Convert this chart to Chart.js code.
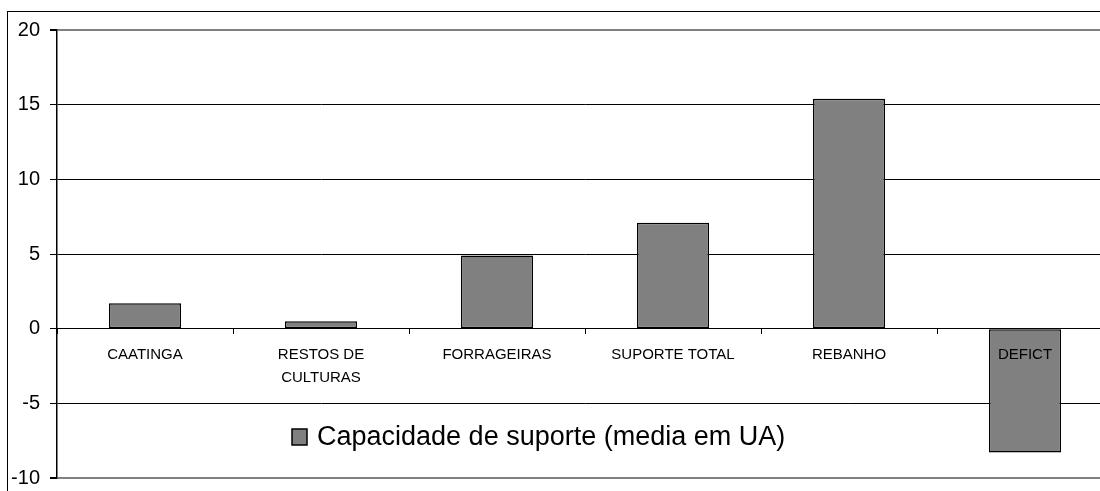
<!DOCTYPE html>
<html>
<head>
<meta charset="utf-8">
<script src="https://cdn.jsdelivr.net/npm/chart.js@4.4.0/dist/chart.umd.min.js"></script>
<style>
  html, body { margin: 0; padding: 0; background: #fff; overflow: hidden; }
  #wrap { position: relative; width: 1120px; height: 491px; }
</style>
</head>
<body>
<div id="wrap"><canvas id="capChart" width="1120" height="491"></canvas></div>
<script>
// categorias e valores (media em UA)
const categorias = ['CAATINGA', ['RESTOS DE', 'CULTURAS'], 'FORRAGEIRAS', 'SUPORTE TOTAL', 'REBANHO', 'DEFICT'];
const valores = [1.7, 0.5, 4.9, 7.1, 15.4, -8.3];
const serieNome = 'Capacidade de suporte (media em UA)';
const yMin = -10;
const yMax = 20;
const yPasso = 5;

const fonte = '"Liberation Sans", Arial, sans-serif';

// moldura externa + legenda dentro da area do grafico
const molduraLegenda = {
	id: 'molduraLegenda',
	beforeDraw(chart) {
		const ctx = chart.ctx;
		ctx.save();
		ctx.fillStyle = '#fff';
		ctx.fillRect(0, 0, chart.width, chart.height);
		ctx.strokeStyle = '#000';
		ctx.lineWidth = 1;
		ctx.strokeRect(7.5, 11.5, chart.width, chart.height);
		ctx.restore();
	},
	afterDraw(chart) {
		const ctx = chart.ctx;
		const area = chart.chartArea;
		const x = area.left + 235;
		const y = 437;
		ctx.save();
		ctx.fillStyle = '#808080';
		ctx.strokeStyle = '#000';
		ctx.lineWidth = 1.5;
		ctx.fillRect(x, y - 8, 15, 16);
		ctx.strokeRect(x, y - 8, 15, 16);
		ctx.fillStyle = '#000';
		ctx.font = '27px ' + fonte;
		ctx.textBaseline = 'middle';
		ctx.fillText(serieNome, x + 25, y + 1);
		ctx.restore();
	}
};

const ctx = document.getElementById('capChart');
const myChart = new Chart(ctx, {
	type: 'bar',
	data: {
		labels: categorias,
		datasets: [{
			label: serieNome,
			data: valores,
			backgroundColor: '#808080',
			borderColor: '#000',
			borderWidth: 1.5,
			borderSkipped: false,
			categoryPercentage: 1,
			barPercentage: 0.41,
		}],
	},
	options: {
		responsive: false,
		animation: false,
		layout: {
			padding: { top: 30, right: 7, bottom: 13, left: 0 }
		},
		plugins: {
			legend: { display: false },
			tooltip: { enabled: false },
		},
		scales: {
			x: {
				position: { y: 0 },
				offset: true,
				afterFit(scale) { scale.paddingLeft = 0; scale.paddingRight = 0; },
				grid: {
					offset: true,
					drawOnChartArea: false,
					drawTicks: true,
					tickLength: 5,
					color: '#000',
				},
				border: { display: true, color: '#000', width: 1, z: 1 },
				ticks: {
					z: 1,
					color: '#000',
					font: { family: fonte, size: 15, lineHeight: 1.5 },
					padding: 10,
					maxRotation: 0,
					autoSkip: false,
				},
			},
			y: {
				min: yMin,
				max: yMax,
				afterFit(scale) {
					scale.width = 57;
					scale.paddingTop = 0;
					scale.paddingBottom = 0;
				},
				grid: {
					color: (c) => (c.tick && (c.tick.value === yMax || c.tick.value === yMin)) ? '#808080' : '#000',
					lineWidth: (c) => (c.tick && (c.tick.value === yMax || c.tick.value === yMin)) ? 2 : 1,
					tickLength: 7,
					tickColor: '#000',
				},
				border: { display: true, color: '#000', width: 1.5 },
				ticks: {
					stepSize: yPasso,
					color: '#000',
					font: { family: fonte, size: 20 },
					padding: 10,
				},
			},
		},
	},
	plugins: [molduraLegenda],
});
</script>
</body>
</html>
